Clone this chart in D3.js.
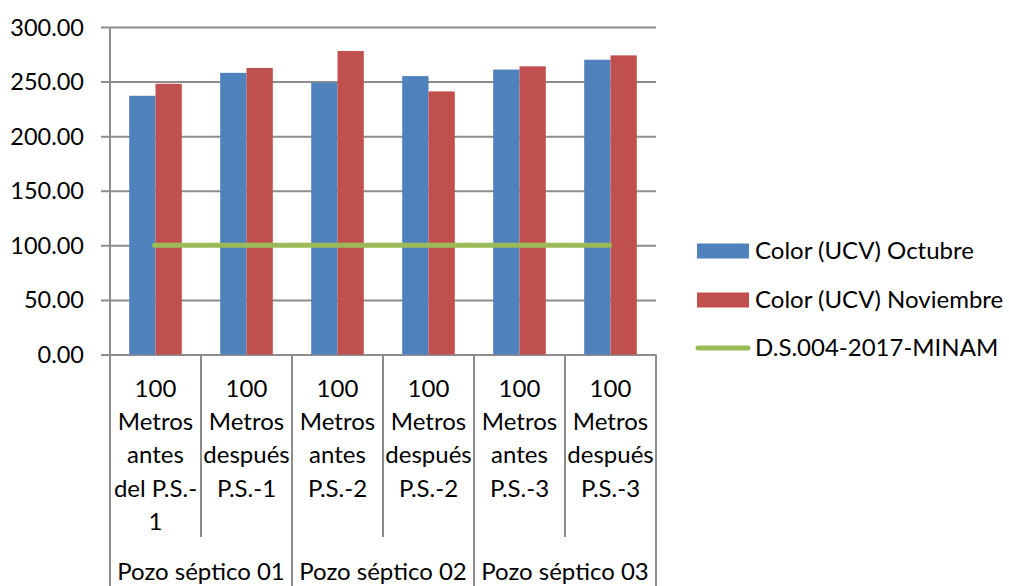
<!DOCTYPE html>
<html>
<head>
<meta charset="utf-8">
<script src="https://cdn.jsdelivr.net/npm/d3@7/dist/d3.min.js"></script>
<style>
  html, body { margin: 0; padding: 0; background: #fff; }
  svg { display: block; }
  text { font-family: Lato, "Open Sans", sans-serif; fill: #000; }
</style>
</head>
<body>
<svg id="chart" width="1009" height="586"></svg>
<script>
// Sampling points (multi-line labels) and their septic-tank groups
const categories = [
  ["100", "Metros", "antes", "del P.S.-", "1"],
  ["100", "Metros", "después", "P.S.-1"],
  ["100", "Metros", "antes", "P.S.-2"],
  ["100", "Metros", "después", "P.S.-2"],
  ["100", "Metros", "antes", "P.S.-3"],
  ["100", "Metros", "después", "P.S.-3"]
];
const groups = ["Pozo séptico 01", "Pozo séptico 02", "Pozo séptico 03"];

// Color (UCV) measurements
const octubre   = [237, 258, 249, 255, 261, 270];
const noviembre = [248, 262.5, 278, 241, 264, 274];
// Regulatory limit D.S.004-2017-MINAM
const limite    = [100, 100, 100, 100, 100, 100];

const yTicks = [0, 50, 100, 150, 200, 250, 300];
const seriesNames = ["Color (UCV) Octubre", "Color (UCV) Noviembre", "D.S.004-2017-MINAM"];
const seriesColors = ["#4f81bd", "#c0504d", "#9bbb59"];

const svg = d3.select("#chart");
const plot = { left: 110, right: 656, top: 27, bottom: 354.5 };
const gridColor = "#8c8c8c";

const x = d3.scaleBand()
  .domain(d3.range(categories.length))
  .range([plot.left, plot.right])
  .paddingInner(0).paddingOuter(0);

const xs = d3.scaleBand()
  .domain([0, 1])
  .range([0, x.bandwidth()])
  .paddingInner(0).paddingOuter(0.73);

const y = d3.scaleLinear().domain([0, 300]).range([plot.bottom, plot.top]);

// Horizontal gridlines with outward ticks
const yAxis = d3.axisLeft(y)
  .tickValues(yTicks)
  .tickSize(-(plot.right - plot.left))
  .tickSizeOuter(0)
  .tickFormat(d3.format(".2f"));

const gy = svg.append("g")
  .attr("transform", `translate(${plot.left},0)`)
  .call(yAxis);
gy.select(".domain").remove();
gy.selectAll(".tick line")
  .attr("x1", -9)
  .attr("stroke", gridColor)
  .attr("stroke-width", 2);
gy.selectAll(".tick text")
  .attr("x", -26)
  .attr("dy", "0.34em")
  .attr("font-size", 23.5)
  .attr("fill", "#000")
  .style("font-family", "Lato, sans-serif");

// Vertical axis line, extended down through the label area
svg.append("line")
  .attr("x1", plot.left).attr("x2", plot.left)
  .attr("y1", plot.top).attr("y2", 586)
  .attr("stroke", gridColor).attr("stroke-width", 2);

// Category separators below the axis
const seps = d3.range(1, categories.length + 1);
svg.append("g").selectAll("line")
  .data(seps)
  .join("line")
  .attr("x1", i => i === categories.length ? plot.right : x(i))
  .attr("x2", i => i === categories.length ? plot.right : x(i))
  .attr("y1", plot.bottom)
  .attr("y2", i => (i % 2 === 0) ? 586 : 537)
  .attr("stroke", gridColor).attr("stroke-width", 2);

// Bars
const seriesData = [octubre, noviembre];
seriesData.forEach((vals, s) => {
  svg.append("g").selectAll("rect")
    .data(vals)
    .join("rect")
    .attr("x", (d, i) => x(i) + xs(s))
    .attr("width", xs.bandwidth())
    .attr("y", d => y(d))
    .attr("height", d => y(0) - y(d))
    .attr("fill", seriesColors[s]);
});

// Limit line through category centres
const line = d3.line()
  .x((d, i) => x(i) + x.bandwidth() / 2 - 1)
  .y(d => y(d));
svg.append("path")
  .datum(limite)
  .attr("d", line)
  .attr("fill", "none")
  .attr("stroke", seriesColors[2])
  .attr("stroke-width", 5)
  .attr("stroke-linecap", "round");

// Category labels
const catG = svg.append("g");
categories.forEach((lines, i) => {
  const t = catG.append("text")
    .attr("text-anchor", "middle")
    .attr("font-size", 24);
  lines.forEach((ln, k) => {
    t.append("tspan")
      .attr("x", x(i) + x.bandwidth() / 2)
      .attr("y", 397 + k * 33.2)
      .text(ln);
  });
});

// Group labels
groups.forEach((g, j) => {
  svg.append("text")
    .attr("x", x(j * 2) + x.bandwidth())
    .attr("y", 580)
    .attr("text-anchor", "middle")
    .attr("font-size", 24)
    .text(g);
});

// Legend
const legend = svg.append("g").attr("transform", "translate(697,0)");
const legY = [251, 300, 348];
seriesNames.forEach((name, i) => {
  if (i < 2) {
    legend.append("rect")
      .attr("x", 0).attr("y", legY[i] - 7.5)
      .attr("width", 52).attr("height", 15)
      .attr("fill", seriesColors[i]);
  } else {
    legend.append("line")
      .attr("x1", 1).attr("x2", 51)
      .attr("y1", legY[i]).attr("y2", legY[i])
      .attr("stroke", seriesColors[i])
      .attr("stroke-width", 5)
      .attr("stroke-linecap", "round");
  }
  legend.append("text")
    .attr("x", 58)
    .attr("y", legY[i])
    .attr("dy", "0.35em")
    .attr("font-size", 24)
    .text(name);
});
</script>
</body>
</html>
